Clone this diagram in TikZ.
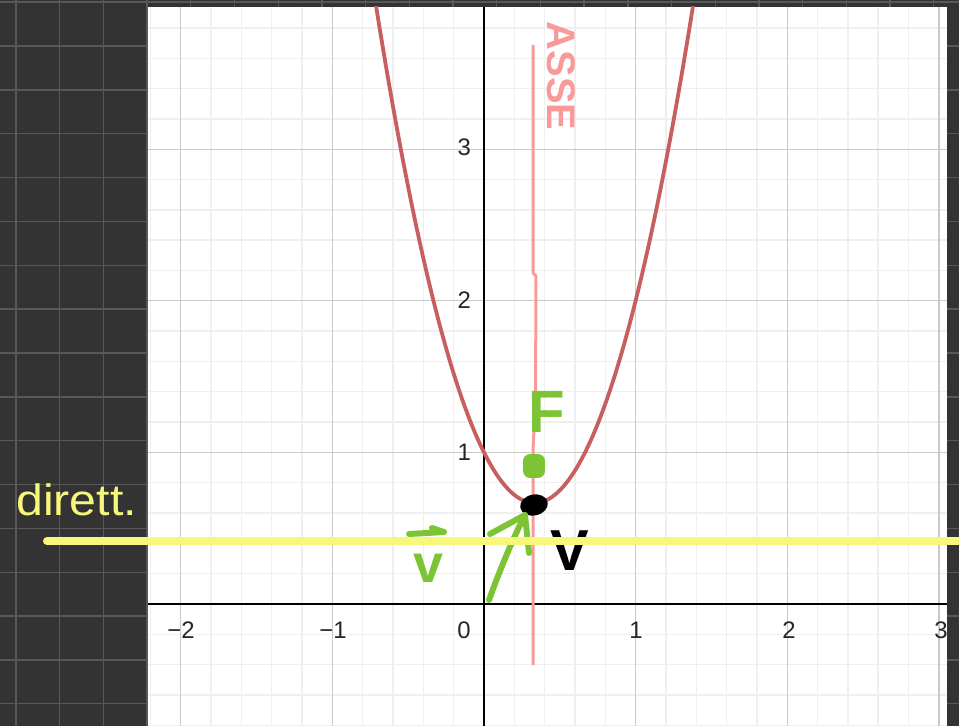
\documentclass[tikz,border=0pt]{standalone}
\usepackage{fontspec}
\setmainfont{Liberation Sans}
\usetikzlibrary{shapes.geometric}
\definecolor{darkbg}{HTML}{333333}
\definecolor{darkgrid}{HTML}{585858}
\definecolor{majgrid}{HTML}{CACACA}
\definecolor{mingrid}{HTML}{EFEFEF}
\definecolor{parab}{HTML}{C75F5F}
\definecolor{axispink}{HTML}{F99A9A}
\definecolor{hlyellow}{HTML}{F7F77C}
\definecolor{pengreen}{HTML}{7CC433}
\tikzset{
  darkline/.style={draw=darkgrid, line width=1.4},
  minorline/.style={draw=mingrid, line width=1.4},
  majorline/.style={draw=majgrid, line width=1.4},
  axisline/.style={draw=black, line width=1.4},
  ticklbl/.style={font=\fontsize{24}{24}\selectfont, text=black!85, inner sep=0},
  greenpen/.style={draw=pengreen, line width=6, line cap=round, line join=round},
  yellowpen/.style={draw=hlyellow, line width=8, line cap=round},
  pinkpen/.style={draw=axispink, line width=3, line join=round},
  parabpen/.style={draw=parab, line width=3.8},
}
\begin{document}
\begin{tikzpicture}[x=1bp,y=-1bp]
\useasboundingbox (0,0) rectangle (959,726);
% dark background with its grid
\fill[darkbg] (0,0) rectangle (959,726);
\foreach \k in {0,...,21} {\draw[darkline] ({16+43.7*\k},0) -- ({16+43.7*\k},726);}
\foreach \k in {0,...,16} {\draw[darkline] (0,{2.15+43.85*\k}) -- (959,{2.15+43.85*\k});}
% white graph area
\fill[white] (148,7) rectangle (947,726);
\begin{scope}
\clip (148,7) rectangle (947,726);
\foreach \k in {-11,...,15} {\draw[minorline] ({484+30.32*\k},7) -- ({484+30.32*\k},726);}
\foreach \k in {-4,...,19} {\draw[minorline] (148,{604-30.32*\k}) -- (947,{604-30.32*\k});}
\foreach \k in {-2,...,3} {\draw[majorline] ({484+151.6*\k},7) -- ({484+151.6*\k},726);}
\foreach \k in {0,...,3} {\draw[majorline] (148,{604-151.6*\k}) -- (947,{604-151.6*\k});}
\draw[axisline] (148,604) -- (947,604);
\draw[axisline] (484,7) -- (484,726);
% tick labels
\node[ticklbl] (xm2) at (181,630) {−2};
\node[ticklbl] (xm1) at (333,630) {−1};
\node[ticklbl] (x0) at (464,630) {0};
\node[ticklbl] (x1) at (636,630) {1};
\node[ticklbl] (x2) at (789,630) {2};
\node[ticklbl] (x3) at (941,630) {3};
\node[ticklbl, anchor=east] (y1) at (471,452) {1};
\node[ticklbl, anchor=east] (y2) at (471,300) {2};
\node[ticklbl, anchor=east] (y3) at (471,147) {3};
% parabola
\draw[parabpen] plot[domain=-0.73:1.40, samples=120, smooth] ({484+151.6*\x},{604-151.6*(3*\x*\x-2*\x+1)});
\end{scope}
% axis of symmetry (pink)
\coordinate (axtop) at (533,45);
\coordinate (axjog) at (533,273);
\coordinate (axbot) at (533,665);
\draw[pinkpen] (axtop) -- (axjog) -- (536,276) -- (535.5,400) -- (533,450) -- (axbot);
\node[rotate=-90, text=axispink, font=\fontsize{40}{40}\selectfont\bfseries, inner sep=0] (asse) at (561,76) {ASSE};
% focus
\node[fill=pengreen, rounded corners=7, minimum width=22, minimum height=24, inner sep=0] (focus) at (534,466) {};
\node[text=pengreen, font=\fontsize{60}{60}\selectfont\bfseries, inner sep=0] (flabel) at (547,412) {F};
% vertex
\node[fill=black, ellipse, minimum width=28, minimum height=21, rotate=12, inner sep=0] (vtx) at (534,505) {};
\node[text=black, font=\fontsize{58}{58}\selectfont\bfseries, inner sep=0] (vlabel) at (570,551) {V};
% green vector arrow to the vertex
\coordinate (gtail) at (489,600);
\coordinate (gtip) at (525,515);
\coordinate (gbarbL) at (490,534);
\coordinate (gbarbR) at (529,553);
\draw[greenpen] (gtail) .. controls (498,575) and (512,540) .. (gtip);
\draw[greenpen] (gbarbL) -- (gtip) -- (gbarbR);
% green v with arrow
\node[text=pengreen, font=\fontsize{54}{54}\selectfont\bfseries, inner sep=0] (vvec) at (428,568) {v};
\coordinate (vaL) at (409,534);
\coordinate (vaR) at (444,532);
\draw[greenpen] (vaL) -- (vaR) -- (432,528);
% directrix
\coordinate (dl) at (47,541);
\coordinate (dr) at (962,541);
\draw[yellowpen] (dl) -- (dr);
\node[text=hlyellow, font=\fontsize{44}{44}\selectfont, anchor=base west, inner sep=0, xscale=1.1] (dirett) at (16,515) {dirett.};
\end{tikzpicture}
\end{document}
